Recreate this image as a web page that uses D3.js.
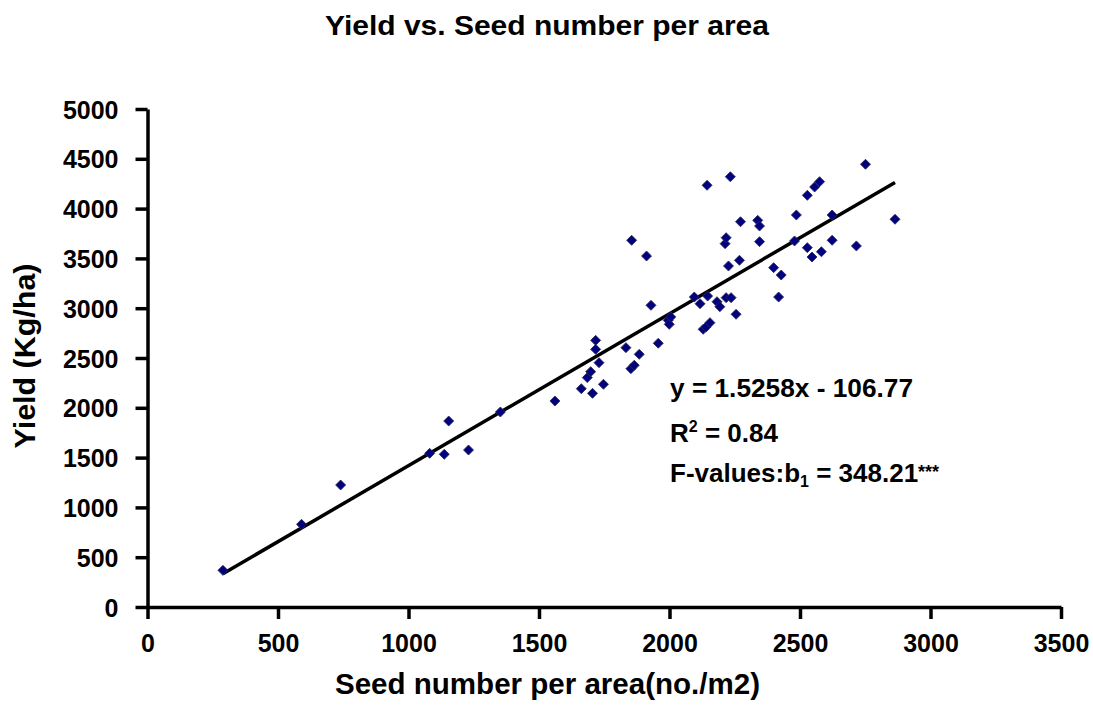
<!DOCTYPE html>
<html>
<head>
<meta charset="utf-8">
<script src="https://cdn.jsdelivr.net/npm/d3@7"></script>
<style>
  html, body { margin: 0; padding: 0; background: #fff; }
  svg { display: block; }
  text { font-family: "Liberation Sans", Arial, sans-serif; font-weight: bold; fill: #000; }
</style>
</head>
<body>
<svg id="chart" width="1093" height="722"></svg>
<script>
// ---- data ----
const seedNumber = [289, 590, 740, 1081, 1137, 1154, 1230, 1352, 1561, 1662, 1685, 1698, 1705, 1717, 1717, 1730, 1747, 1833, 1852, 1865, 1884, 1855, 1912, 1929, 1957, 1995, 1999, 2005, 2095, 2117, 2129, 2140, 2155, 2146, 2182, 2193, 2217, 2236, 2255, 2144, 2233, 2213, 2217, 2226, 2268, 2272, 2338, 2345, 2345, 2399, 2428, 2418, 2479, 2486, 2528, 2556, 2575, 2528, 2546, 2582, 2623, 2623, 2716, 2751, 2864];
const yieldValues = [368, 830, 1225, 1543, 1533, 1867, 1576, 1958, 2068, 2192, 2303, 2363, 2145, 2677, 2587, 2453, 2236, 2604, 2393, 2427, 2537, 3682, 3524, 3029, 2648, 2878, 2838, 2912, 3112, 3045, 2788, 2811, 2855, 3122, 3065, 3015, 3106, 3106, 2939, 4234, 4320, 3648, 3708, 3424, 3481, 3868, 3882, 3825, 3668, 3407, 3333, 3112, 3675, 3936, 4133, 4217, 4270, 3608, 3514, 3567, 3936, 3682, 3625, 4445, 3893];
const xTicks = [0, 500, 1000, 1500, 2000, 2500, 3000, 3500];
const yTicks = [0, 500, 1000, 1500, 2000, 2500, 3000, 3500, 4000, 4500, 5000];
const slope = 1.5258;
const intercept = -106.77;
const titleText = "Yield vs. Seed number per area";
const xLabel = "Seed number per area(no./m2)";
const yLabel = "Yield (Kg/ha)";

const svg = d3.select("#chart");
const x = d3.scaleLinear().domain([0, 3500]).range([147.5, 1061]);
const y = d3.scaleLinear().domain([0, 5000]).range([607, 109]);

// title
svg.append("text").attr("x", 547).attr("y", 35).attr("text-anchor", "middle")
  .style("font-size", "27px").attr("textLength", 444).attr("lengthAdjust", "spacingAndGlyphs")
  .text(titleText);

// axes
const fmt = d3.format("d");
const yAxis = d3.axisLeft(y).tickValues(yTicks).tickFormat(fmt).tickSize(12).tickSizeOuter(0).tickPadding(17);
const xAxis = d3.axisBottom(x).tickValues(xTicks).tickFormat(fmt).tickSize(12).tickSizeOuter(0).tickPadding(15);

const gx = svg.append("g").attr("transform", `translate(0,${y(0)})`).call(xAxis);
const gy = svg.append("g").attr("transform", `translate(${x(0)},0)`).call(yAxis);
[gx, gy].forEach(g => {
  g.select(".domain").attr("stroke", "#000").attr("stroke-width", 3.5);
  g.selectAll(".tick line").attr("stroke", "#000").attr("stroke-width", 3.5);
  g.selectAll(".tick text").style("font-size", "25px").style("font-family", "'Liberation Sans', Arial, sans-serif").style("font-weight", "bold").attr("fill", "#000");
});
gy.selectAll(".tick text").attr("dy", "0.36em");

// axis labels
svg.append("text").attr("x", 547.5).attr("y", 694).attr("text-anchor", "middle")
  .style("font-size", "29px").attr("textLength", 425).attr("lengthAdjust", "spacingAndGlyphs")
  .text(xLabel);
svg.append("text").attr("transform", "translate(35,356) rotate(-90)").attr("text-anchor", "middle")
  .style("font-size", "29px").attr("textLength", 185).attr("lengthAdjust", "spacingAndGlyphs")
  .text(yLabel);

// trend line
const xMin = d3.min(seedNumber), xMax = d3.max(seedNumber);
svg.append("line")
  .attr("x1", x(xMin)).attr("y1", y(slope * xMin + intercept))
  .attr("x2", x(xMax)).attr("y2", y(slope * xMax + intercept))
  .attr("stroke", "#000").attr("stroke-width", 3.5);

// points (diamonds)
const diamond = d3.symbol().type(d3.symbolSquare).size(50);
svg.append("g").selectAll("path").data(seedNumber.map((d, i) => [d, yieldValues[i]]))
  .join("path")
  .attr("d", diamond)
  .attr("transform", d => `translate(${x(d[0])},${y(d[1])}) rotate(45)`)
  .attr("fill", "#000080").attr("stroke", "#2a2a55").attr("stroke-width", 0.8);

// annotation
const ann = svg.append("g").style("font-size", "26px");
ann.append("text").attr("x", 670).attr("y", 397).attr("textLength", 243).attr("lengthAdjust", "spacingAndGlyphs")
  .text(`y = ${slope}x - ${Math.abs(intercept)}`);
const r2 = ann.append("text").attr("x", 670).attr("y", 442);
r2.append("tspan").text("R");
r2.append("tspan").attr("dy", -10).style("font-size", "16px").text("2");
r2.append("tspan").attr("dy", 10).text(" = 0.84");
const fv = ann.append("text").attr("x", 670).attr("y", 482);
fv.append("tspan").text("F-values:b");
fv.append("tspan").attr("dy", 5).style("font-size", "16px").text("1");
fv.append("tspan").attr("dy", -5).text(" = 348.21");
fv.append("tspan").attr("dy", -4).style("font-size", "18px").text("***");
</script>
</body>
</html>
